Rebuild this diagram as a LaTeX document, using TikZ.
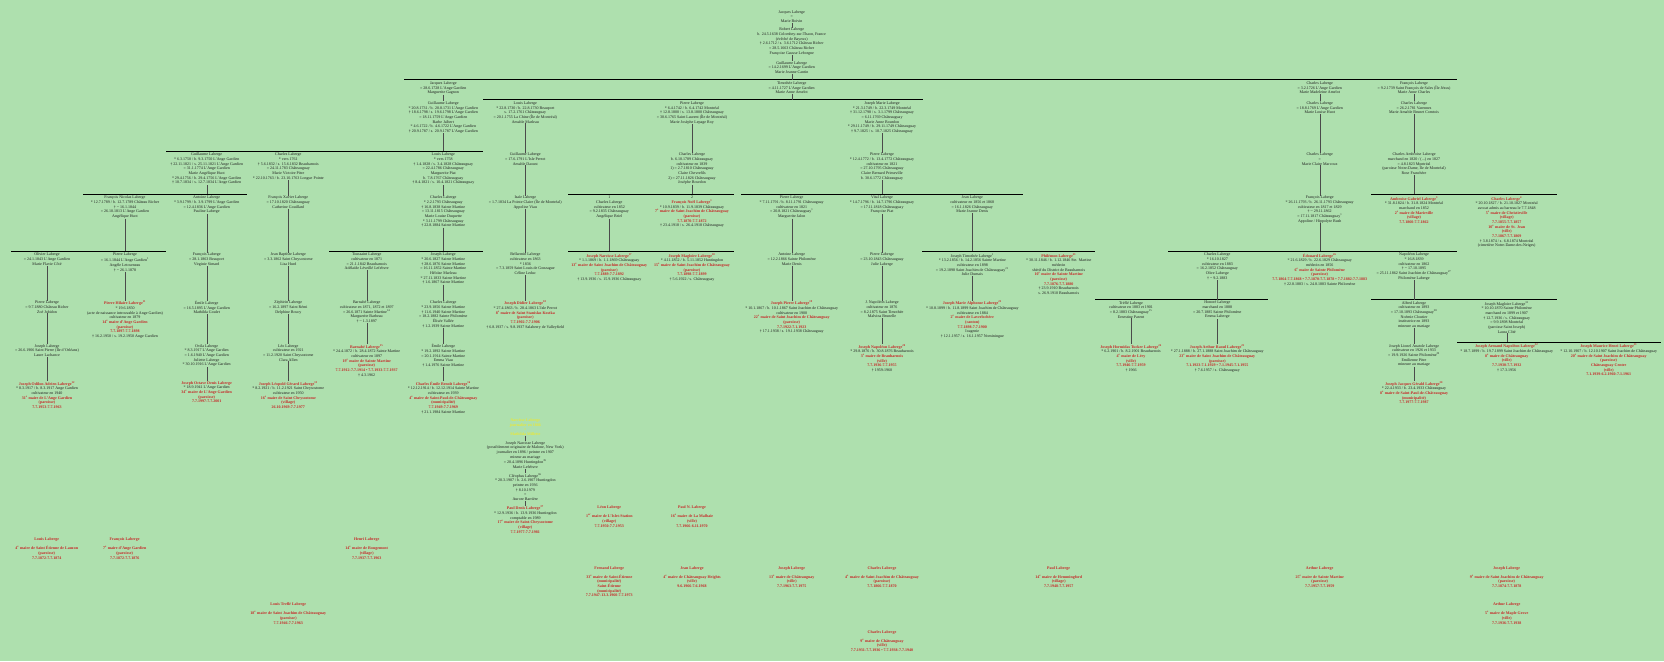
\documentclass[tikz,border=0pt]{standalone}
\usepackage{fontspec}
\setmainfont{Liberation Serif}
\definecolor{bgcol}{HTML}{AEE0AE}
\definecolor{mayor}{HTML}{C62828}
\definecolor{narc}{HTML}{E8E83A}
\definecolor{ink}{HTML}{1E1E1E}
\newcommand{\rl}[1]{\textcolor{mayor}{\bfseries #1}}
\newcommand{\sx}[1]{\textsuperscript{#1}}
\tikzset{
  pers/.style={anchor=north, align=center, inner sep=0pt, text=ink, font=\fontsize{4}{4.67}\selectfont},
  mayorbox/.style={pers, text=mayor, font=\fontsize{4}{4.67}\selectfont\bfseries},
  narcbox/.style={pers, text=narc, font=\fontsize{4}{4.67}\selectfont\bfseries},
  bar/.style={line width=1.5pt},
  link/.style={draw=ink!80, line width=0.4pt},
}
\begin{document}
\begin{tikzpicture}[x=1pt,y=-1pt]
\useasboundingbox (0,0) rectangle (1664,661);
\fill[bgcol] (0,0) rectangle (1664,661);

% bars
\coordinate (b1l) at (404,79.6);      \coordinate (b1r) at (1457,79.6);
\coordinate (b2l) at (483,99.6);      \coordinate (b2r) at (923,99.6);
\coordinate (b3l) at (166,151.3);     \coordinate (b3r) at (482.7,151.3);
\coordinate (b4l) at (83,194.3);      \coordinate (b4r) at (246.7,194.3);
\coordinate (b5l) at (568.3,194.3);   \coordinate (b5r) at (733.7,194.3);
\coordinate (b6l) at (741,194.3);     \coordinate (b6r) at (1022.7,194.3);
\coordinate (b7l) at (1371,194.3);    \coordinate (b7r) at (1557,194.3);
\coordinate (b8l) at (11,251.3);      \coordinate (b8r) at (165.7,251.3);
\coordinate (b9l) at (329,251.3);     \coordinate (b9r) at (482.7,251.3);
\coordinate (b10l) at (568.3,251.3);  \coordinate (b10r) at (733.7,251.3);
\coordinate (b11l) at (922,251.3);    \coordinate (b11r) at (1095,251.3);
\coordinate (b12l) at (1168,251.3);   \coordinate (b12r) at (1457,251.3);
\coordinate (b13l) at (1095,299.6);   \coordinate (b13r) at (1268,299.6);
\coordinate (b14l) at (1371,299.6);   \coordinate (b14r) at (1557,299.6);
\coordinate (b15l) at (1457,342.3);   \coordinate (b15r) at (1660.7,342.3);
\foreach \b in {1,...,15} \draw[bar] (b\b l) -- (b\b r);

% ancestors
\node[pers] (jac0) at (791.7,10.2) {Jacques Laberge\\=\\Marie Boivin};
\node[pers] (rob) at (791.7,27.8) {Robert Laberge\\b. 24.5.1638 Colombey-sur-Thaon, France\\(évêché de Bayeux)\\† 2.6.1712 / s. 3.6.1712 Château Richer\\= 28.5.1663 Château Richer\\Françoise Gausse Leborgne};
\node[pers] (gui0) at (791.7,61.2) {Guillaume Laberge\\= 14.2.1699 L'Ange Gardien\\Marie Jeanne Cantin};
\draw[link] (jac0) -- (rob);
\draw[link] (rob) -- (gui0);
\draw[link] (gui0) -- (gui0 |- b1l);

% children of Guillaume
\node[pers] (jac1) at (443.3,81.4) {Jacques Laberge\\= 28.6.1728 L'Ange Gardien\\Marguerite Gagnon};
\node[pers] (tim) at (791.7,81.4) {Timothée Laberge\\= 4.11.1727 L'Ange Gardien\\Marie Anne Amelot};
\node[pers] (cha1) at (1319.7,81.4) {Charles Laberge\\= 3.2.1726 L'Ange Gardien\\Marie Madeleine Amelot};
\node[pers] (fra1) at (1414,81.4) {François Laberge\\= 9.2.1739 Saint François de Sales (Île Jésus)\\Marie Anne Charles};

% Jacques branch
\node[pers] (gui1) at (443.3,101.4) {Guillaume Laberge\\* 20.8.1731 / b. 20.8.1731 L'Ange Gardien\\† 18.6.1798 / s. 19.6.1798 L'Ange Gardien\\= 18.11.1759 L'Ange Gardien\\Barbe Jalbert\\* 4.6.1722 / b. 4.6.1722 L'Ange Gardien\\† 20.9.1787 / s. 20.9.1787 L'Ange Gardien};
\draw[link] (jac1) -- (gui1);
\draw[link] (gui1) -- (gui1 |- b3l);
\node[pers] (gui2) at (206.7,153) {Guillaume Laberge\\* 6.3.1750 / b. 9.3.1750 L'Ange Gardien\\† 22.11.1821 / s. 25.11.1821 L'Ange Gardien\\= 31.1.1774 L'Ange Gardien\\Marie Angélique Huot\\* 29.4.1756 / b. 29.4.1756 L'Ange Gardien\\† 10.7.1834 / s. 12.7.1834 L'Ange Gardien};
\node[pers] (cha2) at (288.3,153) {Charles Laberge\\* vers 1761\\† 5.6.1832 / s. 15.6.1832 Beauharnois\\= 24.11.1783 Châteauguay\\Marie Victoire Pitre\\* 22.10.1763 / b. 23.10.1763 Longue Pointe};
\node[pers] (lou2) at (443.3,153) {Louis Laberge\\* vers 1758\\† 1.4.1828 / s. 3.4.1828 Châteauguay\\= 22.4.1786 Châteauguay\\Marguerite Piat\\b. 7.8.1767 Châteauguay\\† 8.4.1821 / s. 10.4.1821 Châteauguay};
\draw[link] (gui2) -- (gui2 |- b4l);
\node[pers] (frn) at (125,196) {François Nicolas Laberge\\* 12.7.1789 / b. 12.7.1789 Château Richer\\† \textasciitilde\ 16.1.1844\\= 26.10.1813 L'Ange Gardien\\Angélique Huot};
\node[pers] (ant1) at (206.7,196) {Antoine Laberge\\* 3.9.1799 / b. 3.9.1799 L'Ange Gardien\\= 12.4.1836 L'Ange Gardien\\Pauline Laberge};
\node[pers] (frx) at (288.3,196) {François Xavier Laberge\\= 17.10.1820 Châteauguay\\Catherine Gouillard};
\node[pers] (cha3) at (443.3,196) {Charles Laberge\\* 2.2.1793 Châteauguay\\† 16.8.1838 Sainte Martine\\= 13.11.1815 Châteauguay\\Marie Louise Duquette\\* 3.11.1799 Châteauguay\\† 22.8.1884 Sainte Martine};
\draw[link] (cha2) -- (frx);
\draw[link] (lou2) -- (cha3);
\draw[link] (frn) -- (frn |- b8l);
\draw[link] (cha3) -- (cha3 |- b9l);

\node[pers] (oli) at (47,253) {Olivier Laberge\\= 24.1.1843 L'Ange Gardien\\Marie Flavie Côté};
\node[pers] (pie1) at (125,253) {Pierre Laberge\\= 16.1.1844 L'Ange Gardien\sx{1}\\Angèle Letourneau\\† \textasciitilde\ 26.1.1878};
\node[pers] (fra2) at (206.7,253) {François Laberge\\= 28.1.1863 Beauport\\Virginie Simard};
\node[pers] (jbt) at (288.3,253) {Jean Baptiste Laberge\\= 3.3.1862 Saint Chrysostome\\Lisa Hurd};
\node[pers] (tou) at (366.7,253) {Toussaint Laberge\\cultivateur en 1871\\= 21.1.1842 Beauharnois\\Adélaïde Léveillé Lefebvre};
\node[pers] (jos1) at (443.3,253) {Joseph Laberge\\* 20.6.1827 Sainte Martine\\† 28.6.1876 Sainte Martine\\= 16.11.1852 Sainte Martine\\Héloïse Marleau\\* 27.11.1833 Sainte Martine\\† 1.6.1867 Sainte Martine};
\draw[link] (ant1) -- (fra2);
\draw[link] (frx) -- (jbt);

\node[pers] (pie2) at (47,300.8) {Pierre Laberge\\= 9.7.1880 Château Richer\\Zoé Jobidon};
\node[pers] (phil) at (125,300.8) {\rl{Pierre Hilaire Laberge\sx{11}}\\* 19.6.1850\\(acte de naissance introuvable à Ange Gardien)\\cultivateur en 1879\\\rl{14\sx{e} maire d'Ange Gardien}\\\rl{(paroisse)}\\\rl{7.7.1897-7.7.1898}\\† 16.2.1950 / s. 19.2.1950 Ange Gardien};
\node[pers] (emi1) at (206.7,300.8) {Émile Laberge\\= 16.5.1895 L'Ange Gardien\\Mathilda Goulet};
\node[pers] (zep) at (288.3,300.8) {Zéphirin Laberge\\= 16.2.1897 Saint Rémi\\Delphine Boucy};
\node[pers] (bar1) at (366.7,300.8) {Barnabé Laberge\\cultivateur en 1871, 1872 et 1897\\= 26.6.1871 Sainte Martine\sx{14}\\Marguerite Barbeau\\† \textasciitilde\ 1.3.1897};
\node[pers] (cha4) at (443.3,300.8) {Charles Laberge\\* 23.9.1856 Sainte Martine\\† 11.6.1940 Sainte Martine\\= 18.2.1882 Sainte Philomène\\Élisée Vallée\\† 1.2.1939 Sainte Martine};
\draw[link] (oli) -- (pie2);
\draw[link] (pie1) -- (phil);
\draw[link] (fra2) -- (emi1);
\draw[link] (jbt) -- (zep);
\draw[link] (tou) -- (bar1);
\draw[link] (jos1) -- (cha4);

\node[pers] (jos2) at (47,344.2) {Joseph Laberge\\= 26.6.1906 Saint Pierre (Île d'Orléans)\\Laure Lachance};
\node[pers] (ovi) at (206.7,344.2) {Ovila Laberge\\* 8.3.1917 L'Ange Gardien\\= 1.6.1940 L'Ange Gardien\\Juliette Laberge\\* 30.10.1916 L'Ange Gardien};
\node[pers] (leo) at (288.3,344.2) {Léo Laberge\\cultivateur en 1921\\= 11.2.1920 Saint Chrysostome\\Clara Allen};
\node[pers] (bar2) at (366.7,344.2) {\rl{Barnabé Laberge\sx{15}}\\* 24.4.1872 / b. 28.4.1872 Sainte Martine\\cultivateur en 1897\\\rl{19\sx{e} maire de Sainte Martine}\\\rl{(paroisse)}\\\rl{7.7.1912-7.7.1914 • 7.7.1933-7.7.1937}\\† 4.3.1962};
\node[pers] (emi2) at (443.3,344.2) {Émile Laberge\\* 19.2.1892 Sainte Martine\\= 20.1.1914 Sainte Martine\\Emma Viau\\† 1.4.1976 Sainte Martine};
\draw[link] (pie2) -- (jos2);
\draw[link] (emi1) -- (ovi);
\draw[link] (zep) -- (leo);
\draw[link] (bar1) -- (bar2);
\draw[link] (cha4) -- (emi2);

\node[pers] (joa) at (47,381.2) {\rl{Joseph Odilon Adrien Laberge\sx{12}}\\* 8.3.1917 / b. 8.3.1917 Ange Gardien\\cultivateur en 1940\\\rl{31\sx{e} maire de L'Ange Gardien}\\\rl{(paroisse)}\\\rl{7.7.1953-7.7.1963}};
\node[pers] (jod) at (206.7,381.2) {\rl{Joseph Octave Denis Laberge}\\* 18.9.1941 L'Ange Gardien\\\rl{34\sx{e} maire de L'Ange Gardien}\\\rl{(paroisse)}\\\rl{7.7.1997-7.7.2001}};
\node[pers] (jlg) at (288.3,381.2) {\rl{Joseph Léopold Gérard Laberge\sx{13}}\\* 8.2.1921 / b. 11.2.1921 Saint Chrysostome\\cultivateur en 1950\\\rl{16\sx{e} maire de Saint Chrysostome}\\\rl{(village)}\\\rl{26.10.1969-7.7.1977}};
\node[pers] (ceb) at (443.3,381.2) {\rl{Charles Émile Benoît Laberge\sx{16}}\\* 12.12.1914 / b. 12.12.1914 Sainte Martine\\cultivateur en 1939\\\rl{4\sx{e} maire de Saint-Paul-de-Châteauguay}\\\rl{(municipalité)}\\\rl{7.7.1949-7.7.1969}\\† 21.1.1984 Sainte Martine};
\draw[link] (jos2) -- (joa);
\draw[link] (ovi) -- (jod);
\draw[link] (leo) -- (jlg);
\draw[link] (emi2) -- (ceb);

% Timothée branch
\draw[link] (tim) -- (tim |- b2l);
\node[pers] (lou1) at (525.3,101.4) {Louis Laberge\\* 22.8.1730 / b. 22.8.1730 Beauport\\s. 17.2.1761 Châteauguay\\= 20.1.1755 La Chine (Île de Montréal)\\Amable Marleau};
\node[pers] (pie3) at (692,101.4) {Pierre Laberge\\* 6.4.1742 / b. 6.4.1742 Montréal\\† 12.8.1800 / s. 13.8.1800 Châteauguay\\= 30.6.1765 Saint Laurent (Île de Montréal)\\Marie Josèphe Lepage Roy};
\node[pers] (jma) at (882,101.4) {Joseph Marie Laberge\\* 21.3.1749 / b. 22.3.1749 Montréal\\† 31.12.1798 / s. 3.1.1799 Châteauguay\\= 6.11.1769 Châteauguay\\Marie Anne Bourdon\\* 29.11.1749 / b. 29.11.1749 Châteauguay\\† 9.7.1825 / s. 10.7.1825 Châteauguay};
\node[pers] (gui3) at (525.3,152.8) {Guillaume Laberge\\= 17.6.1791 L'Isle Perrot\\Amable Daoust};
\node[pers] (cha5) at (692,152.8) {Charles Laberge\\b. 6.10.1789 Châteauguay\\cultivateur en 1839\\1) = 2.7.1810 Châteauguay\\Claire Chevrefils\\2) = 27.11.1826 Châteauguay\\Josèphe Bourdon};
\node[pers] (pie4) at (882,152.8) {Pierre Laberge\\* 12.4.1772 / b. 13.4.1772 Châteauguay\\cultivateur en 1821\\= 27.10.1795 Châteauguay\\Claire Bernard Primeville\\b. 30.6.1772 Châteauguay};
\draw[link] (lou1) -- (gui3);
\draw[link] (pie3) -- (cha5);
\draw[link] (jma) -- (pie4);
\draw[link] (cha5) -- (cha5 |- b5l);
\draw[link] (pie4) -- (pie4 |- b6l);

\node[pers] (isa) at (525.3,196) {Isaïe Laberge\\= 1.7.1834 La Pointe Claire (Île de Montréal)\\Appoline Viau};
\node[pers] (cha9) at (609.3,196) {1\\Charles Laberge\\cultivateur en 1852\\= 9.2.1835 Châteauguay\\Angélique Briel};
\node[pers] (fno) at (692,196) {2\\\rl{François Noël Laberge\sx{1}}\\* 10.9.1839 / b. 11.9.1839 Châteauguay\\\rl{7\sx{e} maire de Saint Joachim de Châteauguay}\\\rl{(paroisse)}\\\rl{7.7.1870-7.7.1872}\\† 23.4.1918 / s. 26.4.1918 Châteauguay};
\node[pers] (pie5) at (791.7,196) {Pierre Laberge\\* 7.11.1791 / b. 8.11.1791 Châteauguay\\cultivateur en 1821\\= 20.8.1821 Châteauguay\sx{1}\\Marguerite Jalon};
\node[pers] (vit) at (882,196) {Vital Laberge\\* 14.7.1796 / b. 14.7.1796 Châteauguay\\= 17.11.1818 Châteauguay\\Françoise Piat};
\node[pers] (jea1) at (972.3,196) {Jean Laberge\\cultivateur en 1856 et 1868\\= 16.1.1826 Châteauguay\\Marie Jeanne Denis};
\draw[link] (gui3) -- (isa);
\draw[link] (cha9) -- (cha9 |- b10l);
\draw[link] (jea1) -- (jea1 |- b11l);

\node[pers] (bel) at (525.3,253) {Bellarmin Laberge\\cultivateur en 1863\\* 1836\\= 7.3.1859 Saint Louis de Gonzague\\Céline Leduc};
\node[pers] (jna) at (609.3,253) {\rl{Joseph Narcisse Laberge\sx{17}}\\* 1.1.1869 / b. 1.1.1869 Châteauguay\\\rl{13\sx{e} maire de Saint Joachim de Châteauguay}\\\rl{(paroisse)}\\\rl{7.7.1889-7.7.1892}\\† 13.9.1936 / s. 15.9.1936 Châteauguay};
\node[pers] (jmg1) at (692,253) {\rl{Joseph Magloire Laberge\sx{18}}\\* 4.11.1852 / b. 5.11.1852 Huntingdon\\\rl{15\sx{e} maire de Saint Joachim de Châteauguay}\\\rl{(paroisse)}\\\rl{7.7.1898-7.7.1899}\\† 5.6.1922 / s. Châteauguay};
\node[pers] (ant2) at (791.7,253) {Antoine Laberge\\= 12.2.1866 Sainte Philomène\\Marie Denis};
\node[pers] (pie6) at (882,253) {Pierre Laberge\\= 23.10.1843 Châteauguay\\Julie Laberge};
\node[pers] (jti) at (972.3,253) {Joseph Timothée Laberge\sx{1}\\* 13.2.1856 / b. 14.2.1856 Sainte Martine\\cultivateur en 1898\\= 19.2.1898 Saint Joachim de Châteauguay\sx{21}\\Julie Dumais};
\node[pers] (phi) at (1058.7,253) {\rl{Philémon Laberge\sx{23}}\\* 30.11.1846 / b. 1.12.1846 Ste. Martine\\médecin\\shérif du District de Beauharnois\\\rl{10\sx{e} maire de Sainte Martine}\\\rl{(paroisse)}\\\rl{7.7.1876-7.7.1880}\\† 23.9.1910 Beauharnois\\s. 26.9.1910 Beauharnois};
\draw[link] (isa) -- (bel);
\draw[link] (pie5) -- (ant2);
\draw[link] (vit) -- (pie6);

\node[pers] (jdi) at (525.3,300.8) {\rl{Joseph Didier Laberge\sx{18}}\\* 27.4.1863 / b. 28.4.1863 L'Isle Perrot\\\rl{8\sx{e} maire de Saint Stanislas Kostka}\\\rl{(paroisse)}\\\rl{7.7.1902-7.7.1906}\\† 6.8.1937 / s. 9.8.1937 Salaberry de Valleyfield};
\node[pers] (jpi) at (791.7,300.8) {\rl{Joseph Pierre Laberge\sx{19}}\\* 10.1.1867 / b. 10.1.1867 Saint Joachim de Châteauguay\\cultivateur en 1900\\\rl{22\sx{e} maire de Saint Joachim de Châteauguay}\\\rl{(paroisse)}\\\rl{7.7.1922-7.1.1923}\\† 17.1.1938 / s. 19.1.1938 Châteauguay};
\node[pers] (jnap) at (882,300.8) {J. Napoléon Laberge\\cultivateur en 1876\\= 8.2.1875 Saint Timothée\\Malvina Brunelle};
\node[pers] (jmal) at (972.3,300.8) {\rl{Joseph Marie Alphonse Laberge\sx{22}}\\* 10.8.1899 / b. 11.8.1899 Saint Joachim de Châteauguay\\cultivateur en 1884\\\rl{2\sx{e} maire de Laverlochère}\\\rl{(canton)}\\\rl{7.7.1898-7.7.1900}\\Ioagenie\\† 12.1.1957 / s. 16.1.1957 Nominingue};
\draw[link] (bel) -- (jdi);
\draw[link] (ant2) -- (jpi);
\draw[link] (pie6) -- (jnap);
\draw[link] (jti) -- (jmal);

\node[pers] (jnpl) at (882,344.2) {\rl{Joseph Napoléon Laberge\sx{20}}\\* 29.8.1876 / b. 30.8.1876 Beauharnois\\\rl{3\sx{e} maire de Beauharnois}\\\rl{(ville)}\\\rl{7.7.1936-7.7.1955}\\† 1959-1960};
\draw[link] (jnap) -- (jnpl);

% Narcisse
\node[narcbox] (nar) at (525.3,418.5) {Narcisse Laberge\\journalier en 1886\\=\\Mathilda Millette};
\node[pers] (jnl) at (525.3,441.2) {Joseph Narcisse Laberge\\(possiblement originaire de Malone, New York)\\journalier en 1896 / peintre en 1907\\mineur au mariage\\= 20.4.1896 Huntingdon\sx{35}\\Marie Lefebvre};
\node[pers] (cle) at (525.3,473.2) {Cléophas Laberge\sx{36}\\* 20.3.1907 / b. 2.6.1907 Huntingdon\\peintre en 1936\\† 8.10.1979\\=\\Aurore Barrière};
\node[pers] (pdl) at (525.3,505.8) {\rl{Paul Denis Laberge\sx{37}}\\* 12.9.1936 / b. 13.9.1936 Huntingdon\\comptable en 1989\\\rl{17\sx{e} maire de Saint-Chrysostome}\\\rl{(village)}\\\rl{7.7.1977-7.7.1981}};
\draw[link] (nar) -- (jnl);
\draw[link] (jnl) -- (cle);
\draw[link] (cle) -- (pdl);

% Charles branch
\node[pers] (cha6) at (1319.7,101.4) {Charles Laberge\\= 18.8.1769 L'Ange Gardien\\Marie Louise Huot};
\node[pers] (cha8) at (1319.7,152.8) {Charles Laberge\\=\\Marie Claire Marcoux};
\node[pers] (frc) at (1319.7,196) {François Laberge\\* 26.11.1793 / b. 26.11.1793 Châteauguay\\cultivateur en 1817 et 1829\\† \textasciitilde\ 29.11.1862\\= 17.11.1817 Châteauguay\sx{1}\\Appoline / Hippolyte Bush};
\draw[link] (cha1) -- (cha6);
\draw[link] (cha6) -- (cha8);
\draw[link] (cha8) -- (frc);
\draw[link] (frc) -- (frc |- b12l);
\node[pers] (cha11) at (1217.3,253) {Charles Laberge\\* 16.10.1827\\cultivateur en 1883\\= 16.2.1852 Châteauguay\\Olive Laberge\\† \textasciitilde\ 9.2.1883};
\node[pers] (edo) at (1319.7,253) {\rl{Édouard Laberge\sx{26}}\\* 21.6.1829 / b. 22.6.1829 Châteauguay\\médecin en 1856\\\rl{6\sx{e} maire de Sainte Philomène}\\\rl{(paroisse)}\\\rl{7.7.1864-7.7.1868 • 7.7.1870-7.7.1878 • 7.7.1882-7.7.1883}\\† 22.8.1883 / s. 24.8.1883 Sainte Philomène};
\node[pers] (nap) at (1414,253) {Napoléon Laberge\\* 16.8.1839\\cultivateur en 1862\\† \textasciitilde\ 17.10.1895\\= 25.11.1862 Saint Joachim de Châteauguay\sx{27}\\Philomène Laberge};
\draw[link] (cha11) -- (cha11 |- b13l);
\draw[link] (nap) -- (nap |- b14l);
\node[pers] (tre) at (1131,301) {Tréflé Laberge\\cultivateur en 1883 et 1901\\= 8.2.1883 Châteauguay\sx{15}\\Ernestine Parent};
\node[pers] (hon) at (1217.3,301) {Honoré Laberge\\marchand en 1888\\= 20.7.1885 Sainte Philomène\\Emma Laberge};
\node[pers] (alf) at (1414,301) {Alfred Laberge\\cultivateur en 1893\\= 17.10.1893 Châteauguay\sx{28}\\Noémie Cloutier\\institutrice en 1893\\mineure au mariage};
\node[pers] (jmg2) at (1506.7,301) {Joseph Magloire Laberge\sx{31}\\* 10.10.1870 Sainte Philomène\\marchand en 1899 et 1907\\† 12.7.1936 / s. Châteauguay\\= 9.9.1898 Montréal\\(paroisse Saint Joseph)\\Laura Côté};
\draw[link] (jmg2) -- (jmg2 |- b15l);
\node[pers] (jhtl) at (1131,344.2) {\rl{Joseph Hormidas Tucker Laberge\sx{24}}\\* 6.2.1901 / b. 8.2.1901 Beauharnois\\\rl{4\sx{e} maire de Léry}\\\rl{(ville)}\\\rl{7.7.1946-7.7.1959}\\† 1966};
\node[pers] (jarl) at (1217.3,344.2) {\rl{Joseph Arthur Raoul Laberge\sx{25}}\\* 27.1.1888 / b. 27.1.1888 Saint Joachim de Châteauguay\\\rl{23\sx{e} maire de Saint Joachim de Châteauguay}\\\rl{(paroisse)}\\\rl{7.1.1923-7.1.1929 • 7.1.1945-7.1.1955}\\† 7.6.1957 / s. Châteauguay};
\node[pers] (jlal) at (1414,344.2) {Joseph Lionel Anatole Laberge\\cultivateur en 1926 et 1933\\= 19.9.1926 Sainte Philomène\sx{29}\\Emilienne Pitre\\mineure au mariage};
\node[pers] (jan) at (1506.7,343.8) {\rl{Joseph Armand Napoléon Laberge\sx{32}}\\* 18.7.1899 / b. 19.7.1899 Saint Joachim de Châteauguay\\\rl{8\sx{e} maire de Châteauguay}\\\rl{(ville)}\\\rl{7.7.1930-7.7.1932}\\† 17.3.1956};
\node[pers] (jmh) at (1608.7,343.8) {\rl{Joseph Maurice Henri Laberge\sx{33}}\\* 12.10.1907 / b. 12.10.1907 Saint Joachim de Châteauguay\\\rl{20\sx{e} maire de Saint Joachim de Châteauguay}\\\rl{(paroisse)}\\\rl{Châteauguay Centre}\\\rl{(ville)}\\\rl{7.1.1939-6.2.1960-7.1.1961}};
\node[pers] (jjg) at (1414,381.2) {\rl{Joseph Jacques Gérald Laberge\sx{30}}\\* 22.4.1933 / b. 23.4.1933 Châteauguay\\\rl{8\sx{e} maire de Saint-Paul-de-Châteauguay}\\\rl{(municipalité)}\\\rl{7.7.1977-7.7.1987}};
\draw[link] (tre) -- (jhtl);
\draw[link] (hon) -- (jarl);
\draw[link] (alf) -- (jlal);
\draw[link] (jlal) -- (jjg);

% François branch
\node[pers] (cha7) at (1414,101.4) {Charles Laberge\\= 26.2.1781 Varennes\\Marie Amable Brunet Comtois};
\node[pers] (car) at (1414,152.8) {Charles Ambroise Laberge\\marchand en 1820 / (...) en 1827\\= 4.8.1823 Montréal\\(paroisse Notre-Dame, Île de Montréal)\\Rose Franchère};
\draw[link] (fra1) -- (cha7);
\draw[link] (cha7) -- (car);
\draw[link] (car) -- (car |- b7l);
\node[pers] (agl) at (1414,196) {\rl{Ambroise Gabriel Laberge\sx{3}}\\* 31.8.1824 / b. 31.8.1824 Montréal\\marchand en 1852\\\rl{2\sx{e} maire de Marieville}\\\rl{(village)}\\\rl{7.7.1860-7.7.1862}};
\node[pers] (cha10) at (1506.7,196) {\rl{Charles Laberge\sx{4}}\\* 20.10.1827 / b. 21.10.1827 Montréal\\avocat admis au barreau le 7.7.1848\\\rl{5\sx{e} maire de Christieville}\\\rl{(village)}\\\rl{7.7.1855-7.7.1857}\\\rl{10\sx{e} maire de St. Jean}\\\rl{(ville)}\\\rl{7.7.1867-7.7.1869}\\† 3.8.1874 / s. 6.8.1874 Montréal\\(cimetière Notre-Dame-des-Neiges)};

% mayors without known parents
\node[mayorbox] (m1) at (46.7,537.8) {Louis Laberge\\[4.3pt]4\sx{e} maire de Saint Étienne de Lauzon\\(paroisse)\\7.7.1872-7.7.1874};
\node[mayorbox] (m2) at (124.7,537.8) {François Laberge\\[4.3pt]7\sx{e} maire d'Ange Gardien\\(paroisse)\\7.7.1872-7.7.1876};
\node[mayorbox] (m3) at (366.7,537.8) {Henri Laberge\\[4.3pt]14\sx{e} maire de Rougemont\\(village)\\7.7.1937-7.7.1963};
\node[mayorbox] (m4) at (288.3,602.8) {Louis Treflé Laberge\\[4.3pt]18\sx{e} maire de Saint Joachim de Châteauguay\\(paroisse)\\7.7.1946-7.7.1963};
\node[mayorbox] (m5) at (609.3,505.8) {Léon Laberge\\[4.3pt]1\sx{er} maire de L'Islet-Station\\(village)\\7.7.1950-7.7.1953};
\node[mayorbox] (m6) at (692,505.8) {Paul N. Laberge\\[4.3pt]16\sx{e} maire de La Malbaie\\(ville)\\7.7.1966-6.11.1970};
\node[mayorbox] (m7) at (609.3,566.2) {Fernand Laberge\\[4.3pt]33\sx{e} maire de Saint-Étienne\\(municipalité)\\Saint-Étienne\\(municipalité)\\7.7.1947-13.3.1960-7.7.1973};
\node[mayorbox] (m8) at (692,566.2) {Jean Laberge\\[4.3pt]4\sx{e} maire de Châteauguay Heights\\(ville)\\9.6.1966-7.6.1968};
\node[mayorbox] (m9) at (791.7,566.2) {Joseph Laberge\\[4.3pt]13\sx{e} maire de Châteauguay\\(ville)\\7.7.1963-7.7.1975};
\node[mayorbox] (m10) at (882,566.2) {Charles Laberge\\[4.3pt]4\sx{e} maire de Saint Joachim de Châteauguay\\(paroisse)\\7.7.1866-7.7.1870};
\node[mayorbox] (m11) at (1058.7,566.2) {Paul Laberge\\[4.3pt]14\sx{e} maire de Hemmingford\\(village)\\7.7.1948-7.7.1957};
\node[mayorbox] (m12) at (882,630.2) {Charles Laberge\\[4.3pt]9\sx{e} maire de Châteauguay\\(ville)\\7.7.1931-7.7.1936 • 7.7.1938-7.7.1940};
\node[mayorbox] (m13) at (1319.7,566.2) {Arthur Laberge\\[4.3pt]25\sx{e} maire de Sainte Martine\\(paroisse)\\7.7.1957-7.7.1959};
\node[mayorbox] (m14) at (1506.7,566.2) {Joseph Laberge\\[4.3pt]9\sx{e} maire de Saint Joachim de Châteauguay\\(paroisse)\\7.7.1874-7.7.1878};
\node[mayorbox] (m15) at (1506.7,602.8) {Arthur Laberge\\[4.3pt]5\sx{e} maire de Maple Grove\\(ville)\\7.7.1936-7.7.1938};
\end{tikzpicture}
\end{document}
